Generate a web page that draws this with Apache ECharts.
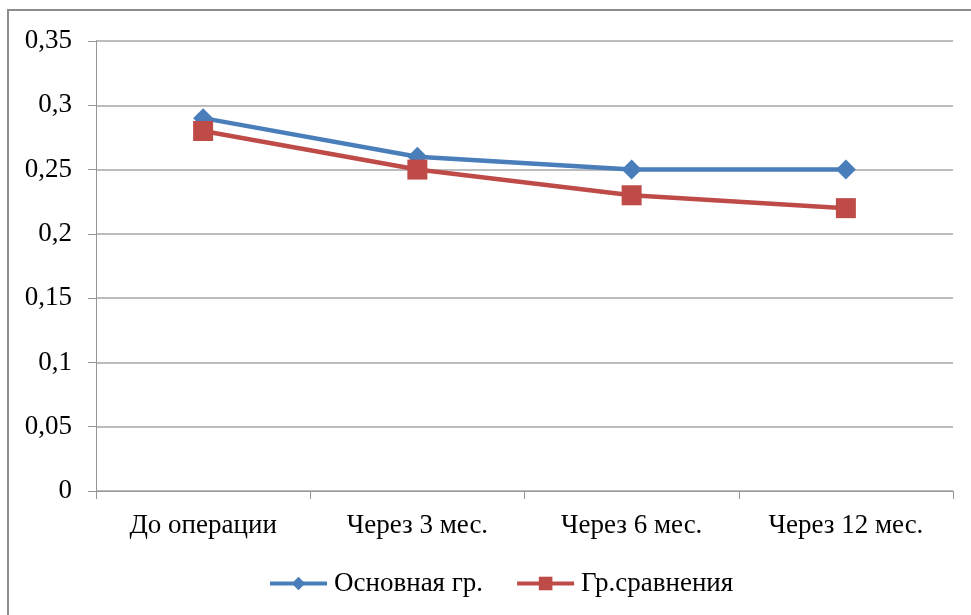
<!DOCTYPE html>
<html>
<head>
<meta charset="utf-8">
<script src="https://cdn.jsdelivr.net/npm/echarts@6/dist/echarts.min.js"></script>
<style>
  html, body { margin: 0; padding: 0; background: #fff; }
  #chart { width: 971px; height: 615px; }
</style>
</head>
<body>
<div id="chart"></div>
<script>
// Timepoints of observation
const categories = ['До операции', 'Через 3 мес.', 'Через 6 мес.', 'Через 12 мес.'];
// Group values at each timepoint
const mainGroup = [0.29, 0.26, 0.25, 0.25];
const compareGroup = [0.28, 0.25, 0.23, 0.22];
const seriesNames = ['Основная гр.', 'Гр.сравнения'];

const FONT = '"Liberation Serif", "Times New Roman", serif';
const chart = echarts.init(document.getElementById('chart'), null, { renderer: 'canvas' });

chart.setOption({
  backgroundColor: '#ffffff',
  animation: false,
  graphic: [{
    type: 'rect',
    shape: { x: 8, y: 10, width: 980, height: 620 },
    style: { fill: 'none', stroke: '#8c8c8c', lineWidth: 2 },
    silent: true
  }],
  grid: { left: 96, right: 18, top: 41, bottom: 124 },
  legend: {
    bottom: 13,
    left: 263,
    itemWidth: 57,
    itemHeight: 17,
    itemGap: 32,
    lineStyle: { width: 4 },
    textStyle: { fontFamily: FONT, fontSize: 27, color: '#000', padding: [0, 0, 0, 2] },
    data: seriesNames
  },
  xAxis: {
    type: 'category',
    data: categories,
    boundaryGap: true,
    axisLine: { lineStyle: { color: '#969696', width: 1 } },
    axisTick: { show: true, length: 8, alignWithLabel: false, lineStyle: { color: '#969696' } },
    axisLabel: { fontFamily: FONT, fontSize: 27, color: '#000', margin: 21 }
  },
  yAxis: {
    type: 'value',
    min: 0,
    max: 0.35,
    interval: 0.05,
    axisLine: { show: true, lineStyle: { color: '#969696', width: 1 } },
    axisTick: { show: true, length: 8, lineStyle: { color: '#969696' } },
    splitLine: { lineStyle: { color: '#a6a6a6', width: 1.5 } },
    axisLabel: {
      fontFamily: FONT, fontSize: 27, color: '#000', margin: 24,
      formatter: v => String(Math.round(v * 100) / 100).replace('.', ',')
    }
  },
  series: [
    {
      name: seriesNames[0],
      type: 'line',
      data: mainGroup,
      symbol: 'diamond',
      symbolSize: 20,
      color: '#4a7ebb',
      lineStyle: { width: 4.5, color: '#4a7ebb' },
      itemStyle: { color: '#4a7ebb' }
    },
    {
      name: seriesNames[1],
      type: 'line',
      data: compareGroup,
      symbol: 'rect',
      symbolSize: 20,
      color: '#be4b48',
      lineStyle: { width: 4.5, color: '#be4b48' },
      itemStyle: { color: '#be4b48' }
    }
  ]
});
</script>
</body>
</html>
